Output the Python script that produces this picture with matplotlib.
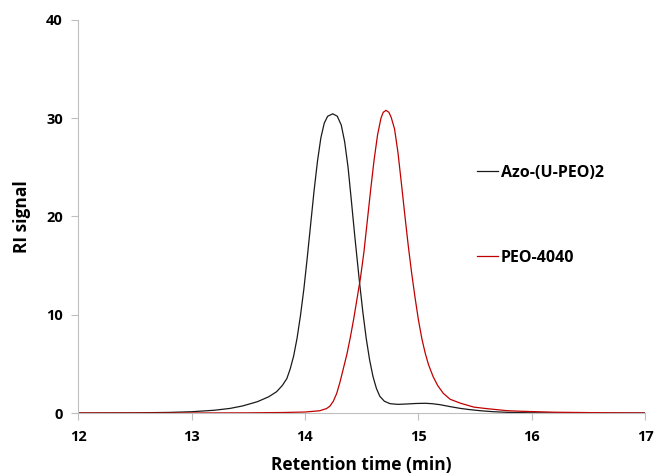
import matplotlib
matplotlib.use("Agg")
import matplotlib.pyplot as plt

# Azo-(U-PEO)2 trace (black)
azo_time = [12.0, 12.5, 12.8, 13.0, 13.2, 13.34, 13.45, 13.58, 13.68, 13.75,
            13.80, 13.84, 13.87, 13.90, 13.93, 13.96, 13.99, 14.02, 14.05, 14.08,
            14.11, 14.14, 14.17, 14.20, 14.245, 14.285, 14.32, 14.35, 14.38, 14.41,
            14.44, 14.48, 14.51, 14.54, 14.57, 14.60, 14.63, 14.66, 14.70, 14.75,
            14.82, 14.90, 14.98, 15.06, 15.12, 15.19, 15.28, 15.37, 15.45, 15.54,
            15.65, 15.78, 15.95, 16.2, 16.6, 17.0]
azo_signal = [0.0, 0.02, 0.06, 0.13, 0.28, 0.47, 0.72, 1.15, 1.65, 2.17,
              2.8, 3.5, 4.5, 5.8, 7.6, 9.9, 12.6, 15.8, 19.2, 22.6,
              25.6, 28.0, 29.5, 30.2, 30.45, 30.2, 29.3, 27.6, 25.0, 21.5,
              17.9, 13.4, 10.3, 7.6, 5.4, 3.7, 2.5, 1.7, 1.2, 0.95,
              0.88, 0.92, 0.97, 0.99, 0.95, 0.85, 0.65, 0.47, 0.35, 0.24,
              0.14, 0.07, 0.03, 0.01, 0.0, 0.0]

# PEO-4040 trace (red)
peo_time = [12.0, 13.0, 13.5, 13.8, 14.0, 14.13, 14.19, 14.22, 14.25, 14.28,
            14.31, 14.34, 14.37, 14.40, 14.43, 14.46, 14.49, 14.52, 14.55, 14.58,
            14.61, 14.64, 14.67, 14.69, 14.715, 14.74, 14.76, 14.79, 14.82, 14.85,
            14.88, 14.91, 14.94, 14.97, 15.00, 15.03, 15.06, 15.09, 15.13, 15.17,
            15.22, 15.28, 15.37, 15.49, 15.60, 15.78, 15.9, 16.2, 16.6, 17.0]
peo_signal = [0.0, 0.0, 0.02, 0.05, 0.1, 0.23, 0.45, 0.7, 1.2, 2.0,
              3.2, 4.6, 6.0, 7.7, 9.6, 11.7, 13.8, 16.4, 19.6, 22.8,
              25.8, 28.3, 30.0, 30.6, 30.8, 30.6, 30.1, 28.9, 26.5, 23.4,
              20.2, 17.1, 14.3, 11.8, 9.5, 7.6, 6.1, 4.9, 3.7, 2.8,
              2.0, 1.4, 1.0, 0.6, 0.45, 0.24, 0.18, 0.08, 0.03, 0.0]

x_ticks = [12, 13, 14, 15, 16, 17]
y_ticks = [0, 10, 20, 30, 40]

plt.rcParams["font.family"] = ["Open Sans", "DejaVu Sans"]

fig = plt.figure(figsize=(6.57, 4.75), dpi=100)
ax = fig.add_axes([0.119, 0.1305, 0.863, 0.8275])

ax.plot(azo_time, azo_signal, color="#1a1a1a", linewidth=0.9, label="Azo-(U-PEO)2")
ax.plot(peo_time, peo_signal, color="#c00000", linewidth=0.9, label="PEO-4040")

ax.set_xlim(12, 17)
ax.set_ylim(0, 40)
ax.set_xticks(x_ticks)
ax.set_yticks(y_ticks)

for side in ["top", "right"]:
    ax.spines[side].set_visible(False)
for side in ["left", "bottom"]:
    ax.spines[side].set_color("#bfbfbf")
    ax.spines[side].set_linewidth(0.8)

ax.tick_params(axis="both", colors="#bfbfbf", labelcolor="black",
               labelsize=10.5, length=5, width=0.8)
ax.tick_params(axis="x", pad=7)
ax.tick_params(axis="y", pad=6)
for lbl in ax.get_xticklabels() + ax.get_yticklabels():
    lbl.set_fontweight("bold")

ax.set_xlabel("Retention time (min)", fontsize=12.5, fontweight="bold", labelpad=9)
ax.set_ylabel("RI signal", fontsize=12.5, fontweight="bold", labelpad=11)

leg = ax.legend(loc="upper left", bbox_to_anchor=(0.704, 0.631), frameon=False,
                handlelength=1.3, handletextpad=0.15, labelspacing=4.3,
                borderpad=0, borderaxespad=0, prop={"size": 11.5, "weight": "bold"})

fig.savefig("out.png", dpi=100)
